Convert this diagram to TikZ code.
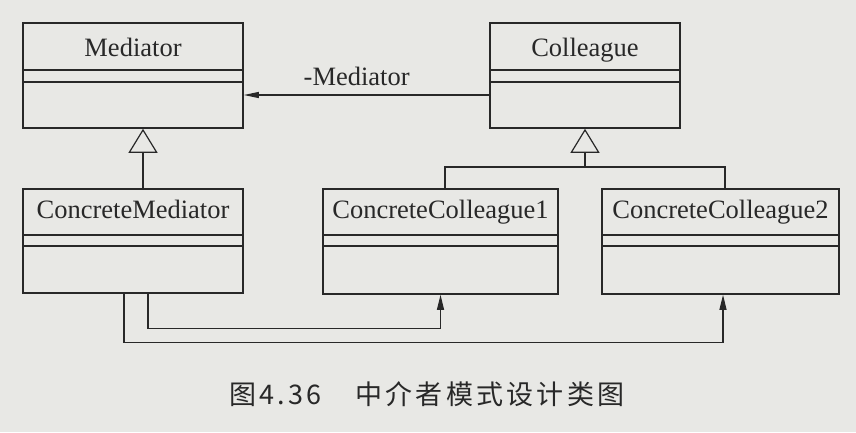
\documentclass[tikz,border=0pt]{standalone}
\usepackage{fontspec}
\setmainfont{Liberation Serif}
\newfontfamily\cjk[LetterSpace=12]{Noto Sans CJK SC}
\usetikzlibrary{arrows.meta}
\definecolor{bg}{RGB}{232,232,229}
\definecolor{ink}{RGB}{40,40,40}
\tikzset{
  classbox/.style={draw=ink, line width=1.6pt, fill=bg, rectangle, inner sep=0pt},
  divider/.style={draw=ink, line width=1.5pt},
  cname/.style={anchor=base, font=\fontsize{26.5}{31}\selectfont, text=ink, inner sep=0pt},
  conn/.style={draw=ink, line width=1.2pt},
  gen/.style={conn, -{Triangle[open, length=24pt, width=29pt, fill=bg, line width=1.2pt]}},
  assoc/.style={conn, -{Triangle[length=15pt, width=6pt]}},
  dep/.style={conn, -{Triangle[length=15pt, width=7pt]}},
  caption/.style={anchor=base west, font=\cjk\fontsize{27}{32}\selectfont, text=ink, inner sep=0pt}
}
\begin{document}
\begin{tikzpicture}[x=1pt, y=-1pt]
  \fill[bg] (0,0) rectangle (856,432);
  \useasboundingbox (0,0) rectangle (856,432);

  % classes
  \node[classbox, minimum width=220pt, minimum height=105pt] (med) at (133,75.5) {};
  \node[classbox, minimum width=190pt, minimum height=105pt] (col) at (585,75.5) {};
  \node[classbox, minimum width=220pt, minimum height=104pt] (cm) at (133,241) {};
  \node[classbox, minimum width=235pt, minimum height=105pt] (cc1) at (440.5,241.5) {};
  \node[classbox, minimum width=237pt, minimum height=105pt] (cc2) at (720.5,241.5) {};

  % dividers
  \foreach \n/\a/\b in {med/48/60, col/48/60, cm/47/58, cc1/47/58, cc2/47/58}{
    \draw[divider] ([yshift=-\a pt]\n.north west) -- ([yshift=-\a pt]\n.north east);
    \draw[divider] ([yshift=-\b pt]\n.north west) -- ([yshift=-\b pt]\n.north east);
  }

  % names
  \node[cname] (medname) at ([yshift=-34pt]med.north) {Mediator};
  \node[cname] (colname) at ([yshift=-34pt]col.north) {Colleague};
  \node[cname] (cmname) at ([yshift=-30pt]cm.north) {ConcreteMediator};
  \node[cname] (cc1name) at ([yshift=-30pt]cc1.north) {ConcreteColleague1};
  \node[cname] (cc2name) at ([yshift=-30pt]cc2.north) {ConcreteColleague2};

  % association Colleague -> Mediator
  \draw[assoc] (col.west |- 0,95) -- node[cname, pos=0.54, yshift=10pt] (assoclabel) {-Mediator} (med.east |- 0,95);

  % generalization
  \draw[gen] ([xshift=10pt]cm.north) -- ([xshift=10pt]med.south);
  \coordinate (j) at (585,167);
  \draw[conn] ([xshift=4.5pt]cc1.north) |- (j) -| ([xshift=4.5pt]cc2.north);
  \draw[gen] (j) -- (col.south);

  % ConcreteMediator -> ConcreteColleagues
  \draw[dep] ([xshift=15pt]cm.south) -- ++(0,35) -| (cc1.south);
  \draw[dep] ([xshift=-9pt]cm.south) -- ++(0,49) -| ([xshift=2.5pt]cc2.south);

  % caption
  \node[caption] (cap) at (229,404) {图\hspace{3pt}4.36\hspace{34pt}中介者模式设计类图};
\end{tikzpicture}
\end{document}
